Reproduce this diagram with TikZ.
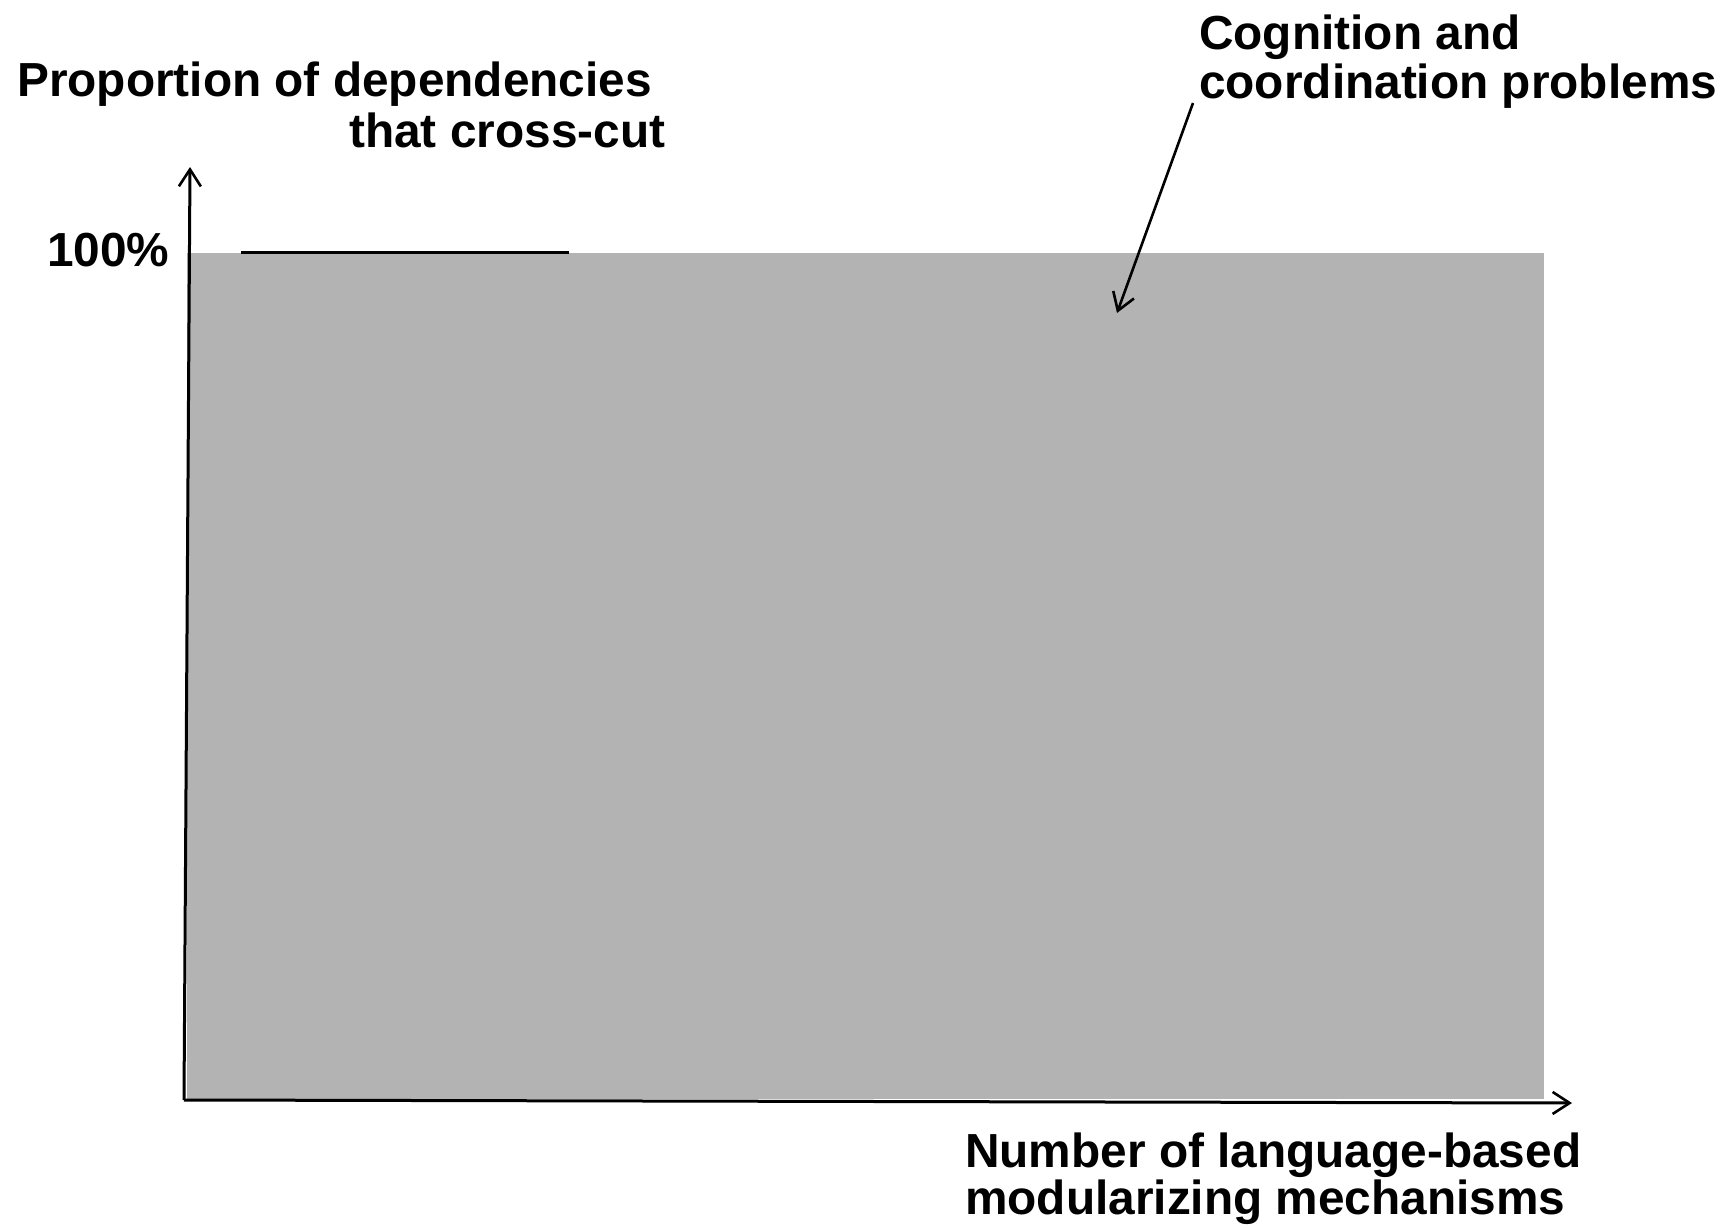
\documentclass[tikz,border=0pt]{standalone}
\usepackage{fontspec}
\setmainfont{Liberation Sans}
\usetikzlibrary{arrows.meta}
\definecolor{areagray}{RGB}{179,179,179}
\begin{document}
\begin{tikzpicture}[x=1pt,y=-1pt,
  lbl/.style={anchor=base west,inner sep=0pt,font=\fontsize{47.8}{56}\selectfont\bfseries},
  axis/.style={line width=3pt,-{Straight Barb[length=17pt,width=22pt,line width=2.6pt]}},
  pointer/.style={line width=2.6pt,-{Straight Barb[length=17pt,width=22pt,line width=2.6pt]}}]
\useasboundingbox (0,0) rectangle (1733,1228);
% shaded region
\fill[areagray] (187,253) rectangle (1544,1099);
% axes
\coordinate (origin) at (184,1100);
\coordinate (ytip) at (190,167);
\coordinate (xtip) at (1572,1103);
\draw[axis] (origin) -- (ytip);
\draw[axis] (origin) -- (xtip);
% level mark at 100%
\coordinate (markL) at (241,252);
\coordinate (markR) at (569,252);
\draw[line width=3pt] (markL) -- (markR);
% labels
\node[lbl] (ylab1) at (17,97) {Proportion of dependencies};
\node[lbl] (ylab2) at (349,148) {that cross-cut};
\node[lbl] (hundred) at (47,266) {100\%};
\node[lbl] (clab1) at (1199,50) {Cognition and};
\node[lbl] (clab2) at (1199,99) {coordination problems};
\node[lbl] (xlab1) at (965,1167) {Number of language-based};
\node[lbl] (xlab2) at (965,1214) {modularizing mechanisms};
% pointer into the region
\coordinate (ptail) at (1193,103);
\coordinate (phead) at (1117,313);
\draw[pointer] (ptail) -- (phead);
\end{tikzpicture}
\end{document}
